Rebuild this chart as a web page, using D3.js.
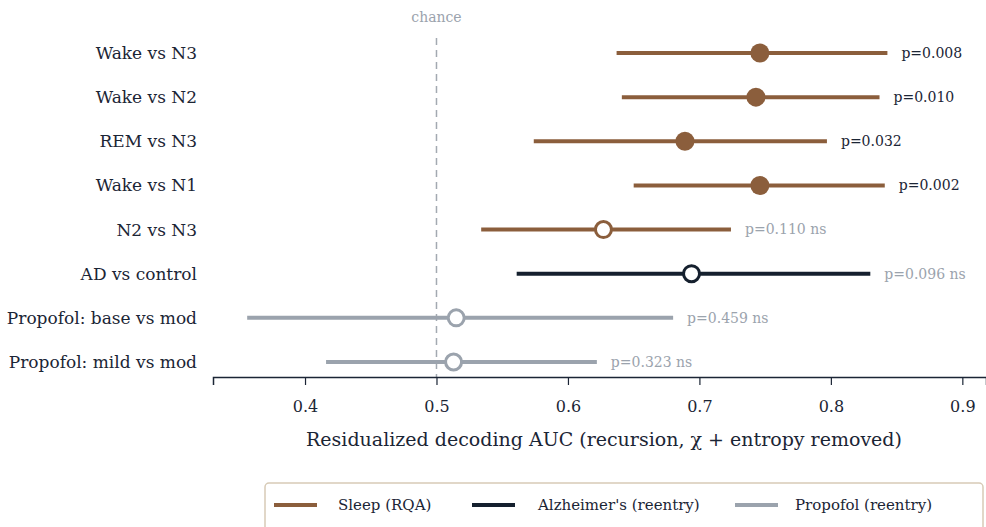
<!DOCTYPE html>
<html>
<head>
<meta charset="utf-8">
<script src="https://cdn.jsdelivr.net/npm/d3@7"></script>
<style>
  body { margin: 0; background: #fff; }
</style>
</head>
<body>
<script>
// contrasts, top to bottom
let labels = ["Wake vs N3", "Wake vs N2", "REM vs N3", "Wake vs N1", "N2 vs N3",
    "AD vs control", "Propofol: base vs mod", "Propofol: mild vs mod"];
let groups = ["sleep", "sleep", "sleep", "sleep", "sleep", "ad", "propofol", "propofol"];
let auc = [0.746, 0.743, 0.689, 0.746, 0.627, 0.694, 0.515, 0.513];
let ciLow = [0.637, 0.641, 0.574, 0.650, 0.534, 0.561, 0.356, 0.416];
let ciHigh = [0.843, 0.837, 0.797, 0.841, 0.724, 0.830, 0.680, 0.622];
let pValues = ["0.008", "0.010", "0.032", "0.002", "0.110", "0.096", "0.459", "0.323"];
let significant = [true, true, true, true, false, false, false, false];

let xTicks = [0.4, 0.5, 0.6, 0.7, 0.8, 0.9];
let legendKeys = ["sleep", "ad", "propofol"];
let legendNames = ["Sleep (RQA)", "Alzheimer's (reentry)", "Propofol (reentry)"];

const colors = {sleep: "#8b5e3c", ad: "#15202e", propofol: "#9ba3ad"};
const ink = "#1b2535";
const muted = "#9ba3ad";
const serif = "DejaVu Serif";

let width = 986, height = 527;

let svg = d3.select("body")
    .append("svg")
    .attr("width", width)
    .attr("height", height)
    .style("font-family", serif);

let x = d3.scaleLinear().domain([0.33, 0.918]).range([213, 986]);
let y = d3.scalePoint().domain(labels).range([53, 362]);

let rows = labels.map((d, i) => ({
    label: d, group: groups[i], auc: auc[i], lo: ciLow[i], hi: ciHigh[i],
    p: pValues[i], sig: significant[i]
}));

// chance line
svg.append("line")
    .attr("x1", x(0.5)).attr("x2", x(0.5))
    .attr("y1", 38).attr("y2", 377)
    .attr("stroke", "#a3a9b1")
    .attr("stroke-width", 1.5)
    .attr("stroke-dasharray", "7,5");

svg.append("text")
    .attr("x", x(0.5)).attr("y", 22)
    .attr("text-anchor", "middle")
    .attr("fill", muted)
    .style("font-family", serif)
    .style("font-size", "14px")
    .text("chance");

// x axis
let xAxis = svg.append("g")
    .attr("transform", "translate(0,377)")
    .call(d3.axisBottom(x).tickValues(xTicks).tickSize(8).tickPadding(16)
        .tickFormat(d3.format(".1f")));
xAxis.attr("font-family", null);
xAxis.select(".domain").attr("stroke", ink).attr("stroke-width", 1.5);
xAxis.selectAll(".tick line").attr("stroke", ink).attr("stroke-width", 1.2);
xAxis.selectAll(".tick text")
    .attr("fill", ink)
    .style("font-family", serif)
    .style("font-size", "16px");

svg.append("text")
    .attr("x", 604).attr("y", 446)
    .attr("text-anchor", "middle")
    .attr("fill", ink)
    .style("font-family", serif)
    .style("font-size", "19px")
    .text("Residualized decoding AUC  (recursion, \u03c7 + entropy removed)");

// row labels
svg.selectAll(".rowlabel")
    .data(rows)
    .join("text")
    .attr("class", "rowlabel")
    .attr("x", 197)
    .attr("y", d => y(d.label))
    .attr("dy", "0.35em")
    .attr("text-anchor", "end")
    .attr("fill", ink)
    .style("font-family", serif)
    .style("font-size", "17px")
    .text(d => d.label);

// CI whiskers
svg.selectAll(".ci")
    .data(rows)
    .join("line")
    .attr("class", "ci")
    .attr("x1", d => x(d.lo))
    .attr("x2", d => x(d.hi))
    .attr("y1", d => y(d.label))
    .attr("y2", d => y(d.label))
    .attr("stroke", d => colors[d.group])
    .attr("stroke-width", 4);

// points: filled when significant, open otherwise
svg.selectAll(".pt")
    .data(rows)
    .join("circle")
    .attr("class", "pt")
    .attr("cx", d => x(d.auc))
    .attr("cy", d => y(d.label))
    .attr("r", d => d.sig ? 9.5 : 8)
    .attr("fill", d => d.sig ? colors[d.group] : "#fff")
    .attr("stroke", d => colors[d.group])
    .attr("stroke-width", d => d.sig ? 0 : 3);

// p-value labels
svg.selectAll(".plabel")
    .data(rows)
    .join("text")
    .attr("class", "plabel")
    .attr("x", d => x(d.hi) + 14)
    .attr("y", d => y(d.label))
    .attr("dy", "0.35em")
    .attr("fill", d => d.sig ? ink : muted)
    .style("font-family", serif)
    .style("font-size", "14px")
    .text(d => "p=" + d.p + (d.sig ? "" : " ns"));

// legend
let legend = svg.append("g");
legend.append("rect")
    .attr("x", 265).attr("y", 483)
    .attr("width", 718).attr("height", 60)
    .attr("rx", 4)
    .attr("fill", "#fff")
    .attr("stroke", "#d7cab6")
    .attr("stroke-width", 1.5);

let legendX = [274, 472, 735];
let legendTextX = [338, 538, 795];
legendKeys.forEach((k, i) => {
    legend.append("line")
        .attr("x1", legendX[i]).attr("x2", legendX[i] + 43)
        .attr("y1", 505).attr("y2", 505)
        .attr("stroke", colors[k])
        .attr("stroke-width", 4);
    legend.append("text")
        .attr("x", legendTextX[i]).attr("y", 505)
        .attr("dy", "0.35em")
        .attr("fill", ink)
        .style("font-family", serif)
        .style("font-size", "15px")
        .text(legendNames[i]);
});
</script>
</body>
</html>
